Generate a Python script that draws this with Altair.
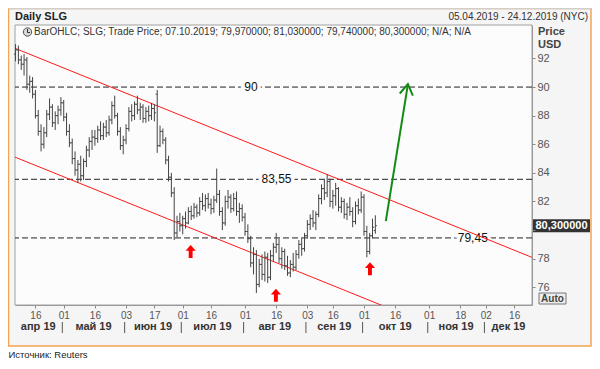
import altair as alt
import pandas as pd

# ---------------- text ----------------
title_text = "Daily SLG"
range_text = "05.04.2019 - 24.12.2019 (NYC)"
header_text = "BarOHLC; SLG; Trade Price; 07.10.2019; 79,970000; 81,030000; 79,740000; 80,300000; N/A; N/A"
source_text = "Источник: Reuters"
axis_title = ["Price", "USD"]
last_label = "80,300000"
auto_label = "Auto"

# ---------------- trading calendar ----------------
holidays = ["2019-04-19", "2019-05-27", "2019-07-04", "2019-09-02", "2019-11-28", "2019-12-25"]
calendar = [d for d in pd.bdate_range("2019-04-05", "2019-12-24") if d.strftime("%Y-%m-%d") not in holidays]
cal_index = {d.strftime("%Y-%m-%d"): i for i, d in enumerate(calendar)}

# ---------------- OHLC (05.04.2019 .. 07.10.2019) ----------------
opens = [92.3, 92.6, 91.9, 91.6, 91.9, 90.2, 90.4, 89.5, 88.0, 86.9, 86.0, 86.8, 88.1, 88.6, 87.5, 88.0, 88.4,
         88.9, 87.9, 86.9, 86.1, 85.0, 84.2, 84.6, 83.8, 84.8, 85.6, 86.2, 86.5, 86.4, 87.0, 86.6, 87.2, 86.8, 87.7, 88.7, 88.0, 86.9, 85.9,
         86.3, 87.1, 88.3, 88.0, 88.8, 88.4, 88.6, 87.8, 88.3, 88.0, 88.5, 89.5, 85.9, 86.9, 86.3, 84.9, 83.7, 82.6, 79.8, 80.6,
         80.3, 80.8, 80.5, 81.3, 81.0, 81.6, 81.2, 82.0, 81.7, 82.2, 81.8, 81.5, 82.1, 82.5, 81.3, 80.5, 82.0, 82.3, 81.5, 82.2, 81.3, 81.5,
         80.9, 79.9, 79.4, 77.7, 78.3, 76.2, 77.6, 76.9, 78.1, 76.7, 78.2, 78.8, 79.0, 78.0, 78.5, 77.5, 77.0, 77.6, 77.4, 78.3, 79.0, 78.7,
         79.6, 80.4, 80.8, 80.5, 81.1, 82.2, 82.9, 82.6, 83.4, 82.0, 82.4, 82.9, 81.6, 82.0, 81.1, 81.6, 81.3, 80.6, 81.7, 81.4,
         82.3, 79.9, 78.5, 79.6, 79.97]
highs = [93.0, 92.9, 92.2, 92.3, 92.1, 90.8, 90.7, 89.8, 88.4, 87.4, 87.2, 88.4, 89.2, 88.8, 88.3, 88.7, 89.3,
         89.1, 88.2, 87.4, 86.4, 85.5, 84.9, 85.2, 85.0, 85.9, 86.5, 87.0, 87.0, 87.3, 87.6, 87.5, 87.7, 88.0, 89.0, 89.4, 88.2, 87.2, 86.6,
         87.4, 88.6, 88.8, 89.0, 89.4, 88.9, 88.8, 88.6, 88.7, 88.9, 88.8, 89.8, 87.3, 87.1, 86.5, 85.2, 84.0, 83.0, 81.0, 81.2,
         81.0, 81.3, 81.6, 81.7, 81.9, 81.8, 82.3, 82.6, 82.5, 82.6, 82.2, 82.4, 84.3, 82.8, 81.6, 82.4, 82.8, 82.5, 82.6, 82.7, 81.9, 81.8,
         81.2, 80.4, 79.6, 78.8, 78.6, 78.0, 78.3, 78.5, 78.4, 78.6, 79.1, 79.8, 79.4, 78.8, 78.7, 78.2, 77.9, 78.4, 78.6, 79.3, 79.4, 79.8,
         80.7, 81.1, 81.4, 81.3, 82.5, 83.2, 83.5, 83.9, 83.6, 82.8, 83.3, 83.0, 82.3, 82.2, 81.9, 82.3, 81.6, 82.0, 82.2, 82.7,
         82.5, 80.3, 79.8, 80.8, 81.03]
lows = [91.8, 91.6, 91.2, 90.8, 89.8, 89.6, 89.2, 87.8, 86.6, 85.5, 85.7, 86.5, 87.7, 87.2, 87.0, 87.4, 88.0,
        87.6, 86.6, 85.8, 84.6, 83.8, 83.3, 83.4, 83.5, 84.4, 85.1, 85.6, 85.9, 86.1, 86.3, 86.3, 86.5, 86.6, 87.4, 87.8, 86.6, 85.6, 85.3,
        86.0, 86.9, 87.6, 87.7, 88.1, 87.7, 87.5, 87.5, 87.6, 87.7, 87.6, 85.4, 85.8, 86.0, 84.6, 83.4, 82.3, 79.3, 79.5, 79.9,
        79.7, 80.1, 80.4, 80.7, 80.8, 80.9, 81.0, 81.4, 81.3, 81.5, 81.1, 81.2, 81.9, 81.0, 80.0, 80.3, 81.5, 81.2, 81.3, 81.0, 80.5, 80.6,
        79.6, 79.1, 77.4, 76.9, 75.6, 76.0, 76.5, 76.4, 76.3, 76.5, 77.8, 78.4, 77.7, 77.3, 77.2, 76.8, 76.7, 77.1, 77.2, 78.0, 78.2, 78.5,
        79.4, 80.0, 80.2, 80.0, 80.9, 81.8, 82.1, 82.3, 81.6, 81.5, 81.7, 81.3, 81.2, 80.8, 80.7, 81.0, 80.2, 80.4, 81.1, 81.2,
        79.6, 78.1, 78.3, 79.4, 79.74]
closes = [92.6, 91.9, 91.6, 91.9, 90.2, 90.4, 89.5, 88.0, 86.9, 86.0, 86.8, 88.1, 88.6, 87.5, 88.0, 88.4, 88.9,
          87.9, 86.9, 86.1, 85.0, 84.2, 84.6, 83.8, 84.8, 85.6, 86.2, 86.5, 86.4, 87.0, 86.6, 87.2, 86.8, 87.7, 88.7, 88.0, 86.9, 85.9, 86.3,
          87.1, 88.3, 88.0, 88.8, 88.4, 88.6, 87.8, 88.3, 88.0, 88.5, 88.2, 85.9, 86.9, 86.3, 84.9, 83.7, 82.6, 79.8, 80.6, 80.3,
          80.8, 80.5, 81.3, 81.0, 81.6, 81.2, 82.0, 81.7, 82.2, 81.8, 81.5, 82.1, 82.5, 81.3, 80.5, 82.0, 82.3, 81.5, 82.2, 81.3, 81.5, 80.9,
          79.9, 79.4, 77.7, 78.3, 76.2, 77.6, 76.9, 78.1, 76.7, 78.2, 78.8, 79.0, 78.0, 78.5, 77.5, 77.0, 77.6, 77.4, 78.3, 79.0, 78.7, 79.6,
          80.4, 80.8, 80.5, 81.1, 82.2, 82.9, 82.6, 83.4, 82.0, 82.4, 82.9, 81.6, 82.0, 81.1, 81.6, 81.3, 80.6, 81.7, 81.4, 82.3,
          79.9, 78.5, 79.6, 80.2, 80.30]

# ---------------- axis ticks ----------------
tick_dates = ["2019-04-16", "2019-05-01", "2019-05-16", "2019-06-03", "2019-06-17", "2019-07-01", "2019-07-16",
              "2019-08-01", "2019-08-16", "2019-09-03", "2019-09-16", "2019-10-01", "2019-10-16", "2019-11-01",
              "2019-11-18", "2019-12-02", "2019-12-16"]
tick_labels = ["16", "01", "16", "03", "17", "01", "16", "01", "16", "03", "16", "01", "16", "01", "18", "02", "16"]
month_names = ["апр 19", "май 19", "июн 19", "июл 19", "авг 19", "сен 19", "окт 19", "ноя 19", "дек 19"]
month_numbers = [4, 5, 6, 7, 8, 9, 10, 11, 12]
y_ticks = [76, 78, 80, 82, 84, 86, 88, 90, 92]

# ---------------- annotations ----------------
level_values = [90, 83.55, 79.45]
level_texts = ["90", "83,55", "79,45"]
level_text_at = [83.1, 92.1, 161.4]
upper_channel = {"idx": [-0.2, 182.3], "v": [92.71, 78.09]}
lower_channel = {"idx": [-0.2, 131.0], "v": [85.1, 74.6]}
green_arrow = {"idx": [130.7, 138.5], "v": [80.63, 90.2]}
red_arrows = {"idx": [61.8, 91.9, 125.1], "v": [78.5, 75.45, 77.3]}

# ---------------- frames ----------------
n = len(opens)
ohlc = pd.DataFrame({"idx": list(range(n)), "open": opens, "high": highs, "low": lows, "close": closes})

tick_idx = [cal_index[d] for d in tick_dates]
x_label_expr = "".join(f"datum.value == {i} ? '{l}' : " for i, l in zip(tick_idx, tick_labels)) + "''"

months = []
for name, m in zip(month_names, month_numbers):
    ids = [i for i, d in enumerate(calendar) if d.month == m]
    months.append({"label": name, "center": (min(ids) + max(ids)) / 2, "sep": min(ids) - 0.5, "first": m == 4})
month_df = pd.DataFrame(months)
sep_df = month_df[~month_df["first"]]

W, H = 517, 280
xscale = alt.Scale(domain=[-0.2, 182.3], nice=False, zero=False)
yscale = alt.Scale(domain=[74.76, 94.34], nice=False, zero=False)
FONT = "Liberation Sans"

x_axis = alt.Axis(values=tick_idx, labelExpr=x_label_expr, title=None, grid=False, tickSize=3,
                  labelFontSize=10, labelColor="#555555", tickColor="#888888", domainColor="#999999",
                  labelPadding=2, labelFlush=False, zindex=1, labelFont=FONT)
y_axis = alt.Axis(orient="right", values=y_ticks, labelExpr="datum.value == 80 ? '' : datum.value",
                  title=None, grid=False, tickSize=3, labelFontSize=11, labelColor="#555555",
                  tickColor="#888888", domainColor="#999999", labelPadding=2, zindex=1, labelFont=FONT)


def xe(f):
    return alt.X(f, type="quantitative", scale=xscale, axis=x_axis)


def ye(f):
    return alt.Y(f, type="quantitative", scale=yscale, axis=y_axis)


one = pd.DataFrame({"k": [0]})

frame = alt.Chart(one).mark_rect(fill="#f5f5f5", stroke="#f3a456", strokeWidth=1.5).encode(
    x=alt.value(-6.5), x2=alt.value(576), y=alt.value(-16.5), y2=alt.value(321))
frame_top = alt.Chart(one).mark_rule(color="#cfcfcf", strokeWidth=1.5).encode(
    x=alt.value(-6.5), x2=alt.value(576), y=alt.value(-16.5))
plot_bg = alt.Chart(one).mark_rect(fill="#fcfcfc", stroke="#a0a0a0", strokeWidth=1).encode(
    x=alt.value(0), x2=alt.value(W), y=alt.value(0), y2=alt.value(H))

levels_df = pd.DataFrame({"v": level_values, "lab": level_texts, "at": level_text_at})
level_rules = alt.Chart(levels_df).mark_rule(strokeDash=[6, 3], color="#222222", strokeWidth=1).encode(y=ye("v"))
level_halo = alt.Chart(levels_df).mark_text(fontSize=12, font=FONT, color="#fcfcfc", stroke="#fcfcfc",
                                            strokeWidth=7).encode(x=xe("at"), y=ye("v"), text="lab:N")
level_text = alt.Chart(levels_df).mark_text(fontSize=12, font=FONT, color="#111111").encode(
    x=xe("at"), y=ye("v"), text="lab:N")

chan_df = pd.concat([pd.DataFrame(upper_channel).assign(line="up"),
                     pd.DataFrame(lower_channel).assign(line="low")])
channels = alt.Chart(chan_df).mark_line(color="#ff1a1a", strokeWidth=1, clip=True).encode(
    x=xe("idx"), y=ye("v"), detail="line:N")

hl = alt.Chart(ohlc).mark_rule(color="#444444", strokeWidth=1).encode(x=xe("idx"), y=ye("low"), y2=alt.Y2("high"))
op = alt.Chart(ohlc).mark_rule(color="#444444", strokeWidth=1, xOffset=-1.6, x2Offset=0).encode(
    x=xe("idx"), x2=alt.X2("idx"), y=ye("open"))
cl = alt.Chart(ohlc).mark_rule(color="#444444", strokeWidth=1, xOffset=0, x2Offset=1.6).encode(
    x=xe("idx"), x2=alt.X2("idx"), y=ye("close"))

g_df = pd.DataFrame(green_arrow)
g_line = alt.Chart(g_df).mark_line(color="#138a13", strokeWidth=2).encode(x=xe("idx"), y=ye("v"))
g_head = alt.Chart(g_df.tail(1)).mark_point(shape="M-0.7,1.1L0,0L0.7,1.1", filled=False, color="#138a13",
                                            strokeWidth=2, size=360, angle=9, opacity=1).encode(x=xe("idx"), y=ye("v"))
r_df = pd.DataFrame(red_arrows)
r_arrows = alt.Chart(r_df).mark_point(shape="M0,-1L0.78,-0.1L0.3,-0.1L0.3,1L-0.3,1L-0.3,-0.1L-0.78,-0.1Z",
                                      filled=True, color="#ff0000", size=169, opacity=1).encode(x=xe("idx"), y=ye("v"))

last_df = pd.DataFrame({"v": [closes[-1]], "lab": [last_label]})
last_box = alt.Chart(last_df).mark_rect(color="#333333", yOffset=-6.5, y2Offset=6.5).encode(
    x=alt.value(518), x2=alt.value(575), y=ye("v"), y2=alt.Y2("v"))
last_txt = alt.Chart(last_df).mark_text(color="white", fontWeight="bold", fontSize=11, font=FONT).encode(
    x=alt.value(546.5), y=ye("v"), text="lab:N")

month_txt = alt.Chart(month_df).mark_text(fontWeight="bold", fontSize=11, font=FONT, color="#333333").encode(
    x=xe("center"), y=alt.value(302), text="label:N")
month_sep = alt.Chart(sep_df).mark_rule(color="#555555", strokeWidth=1).encode(
    x=xe("sep"), y=alt.value(297), y2=alt.value(308))

def txt(s, x, y, **kw):
    base = dict(font=FONT, fontSize=10, color="#333333", align="left", baseline="middle")
    base.update(kw)
    return alt.Chart(pd.DataFrame({"t": [s]})).mark_text(**base).encode(x=alt.value(x), y=alt.value(y), text="t:N")

title = txt(title_text, 0, -8.5, fontWeight="bold", fontSize=11, color="#222222")
rng = txt(range_text, 573, -8.5, align="right", color="#333333")
header = txt(header_text, 19, 7, color="#333333")
clock = alt.Chart(one).mark_point(shape="circle", filled=True, fill="#d8d8d8", stroke="#555555", strokeWidth=1,
                                  size=70, opacity=1).encode(x=alt.value(12.5), y=alt.value(7))
hand1 = alt.Chart(one).mark_rule(color="#333333", strokeWidth=1).encode(
    x=alt.value(12.5), y=alt.value(4), y2=alt.value(7.5))
hand2 = alt.Chart(one).mark_rule(color="#333333", strokeWidth=1).encode(
    x=alt.value(12.5), x2=alt.value(15), y=alt.value(7.5))
price_t = txt(axis_title[0], 523, 7, fontWeight="bold", fontSize=11, color="#444444")
usd_t = txt(axis_title[1], 523, 20, fontWeight="bold", fontSize=11, color="#444444")
auto_box = alt.Chart(one).mark_rect(fill="#eeeeee", stroke="#777777", strokeWidth=1).encode(
    x=alt.value(524), x2=alt.value(551), y=alt.value(268), y2=alt.value(279))
auto_t = txt(auto_label, 537.5, 273.8, align="center", fontWeight="bold", fontSize=10, color="#444444")
source = txt(source_text, -6.5, 330, fontSize=9.5, color="#222222")

chart = alt.layer(
    frame, frame_top, plot_bg, level_rules, level_halo, level_text, channels, hl, op, cl,
    g_line, g_head, r_arrows, last_box, last_txt, month_txt, month_sep,
    title, rng, header, clock, hand1, hand2, price_t, usd_t, auto_box, auto_t, source
).properties(
    width=W, height=H,
    autosize=alt.AutoSizeParams(type="none"),
    padding={"left": 7, "top": 17, "right": 60, "bottom": 55},
    background="white"
).configure_view(stroke=None)

chart.save("out.html", embed_options={"renderer": "svg", "actions": False})
